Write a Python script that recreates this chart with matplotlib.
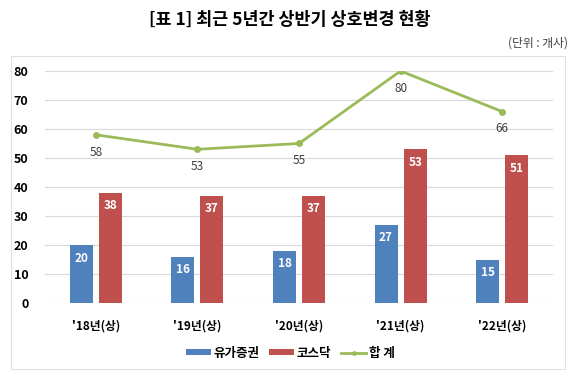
import matplotlib.pyplot as plt
import numpy as np
from matplotlib.patches import Rectangle

plt.rcParams['font.family'] = ['Noto Sans CJK KR', 'DejaVu Sans']

categories = ["'18년(상)", "'19년(상)", "'20년(상)", "'21년(상)", "'22년(상)"]
kospi = [20, 16, 18, 27, 15]
kosdaq = [38, 37, 37, 53, 51]
total = [58, 53, 55, 80, 66]

blue = '#4F81BD'
red = '#C0504D'
green = '#9BBB59'

fig = plt.figure(figsize=(5.8, 3.89), dpi=100)
ax = fig.add_axes([45/580, 86/389, 508/580, 232/389])

# chart frame
fig.patches.append(Rectangle((11/580, 20/389), 554/580, 313/389, transform=fig.transFigure,
                             fill=False, edgecolor='#E0E0E0', lw=0.8))

x = np.arange(len(categories))
w = 0.225
off = 0.143
b1 = ax.bar(x - off, kospi, w, color=blue, label='유가증권', zorder=3)
b2 = ax.bar(x + off, kosdaq, w, color=red, label='코스닥', zorder=3)
ln, = ax.plot(x, total, color=green, lw=2, marker='o', ms=4, label='합 계', zorder=4)

for xi, v in zip(x, kospi):
    ax.text(xi - off, v - 4.5, str(v), ha='center', va='center', color='white',
            fontsize=8.5, fontweight='bold', zorder=5)
for xi, v in zip(x, kosdaq):
    ax.text(xi + off, v - 4.5, str(v), ha='center', va='center', color='white',
            fontsize=8.5, fontweight='bold', zorder=5)
for xi, v in zip(x, total):
    ax.text(xi, v - 6, str(v), ha='center', va='center', color='#404040',
            fontsize=8.5, zorder=5)

ax.set_xlim(-0.5, len(categories) - 0.5)
ax.set_ylim(0, 80)
ax.set_yticks(range(0, 81, 10))
ax.set_xticks(x)
ax.set_xticklabels(categories, fontsize=8.5, fontweight='bold')
for lab in ax.get_yticklabels():
    lab.set_fontweight('bold')
    lab.set_fontsize(9)
ax.tick_params(length=0, pad=12)
ax.tick_params(axis='y', pad=12)
ax.grid(axis='y', color='#D9D9D9', lw=0.8, zorder=0)
for s in ax.spines.values():
    s.set_visible(False)

fig.text(0.5, 1 - 20/389, '[표 1] 최근 5년간 상반기 상호변경 현황', ha='center', va='center',
         fontsize=12.5, fontweight='bold')
fig.text(568/580, 1 - 43/389, '(단위 : 개사)', ha='right', va='center', fontsize=8.5,
         color='#404040')

leg = fig.legend([b1, b2, ln], ['유가증권', '코스닥', '합 계'], loc='center',
                 bbox_to_anchor=(290/580, 1 - 353/389), ncol=3, frameon=False,
                 prop={'weight': 'bold', 'size': 9}, handlelength=2.0, handleheight=0.4,
                 columnspacing=0.8, handletextpad=0.2, markerscale=0.6)

fig.savefig('out.png', dpi=100)
